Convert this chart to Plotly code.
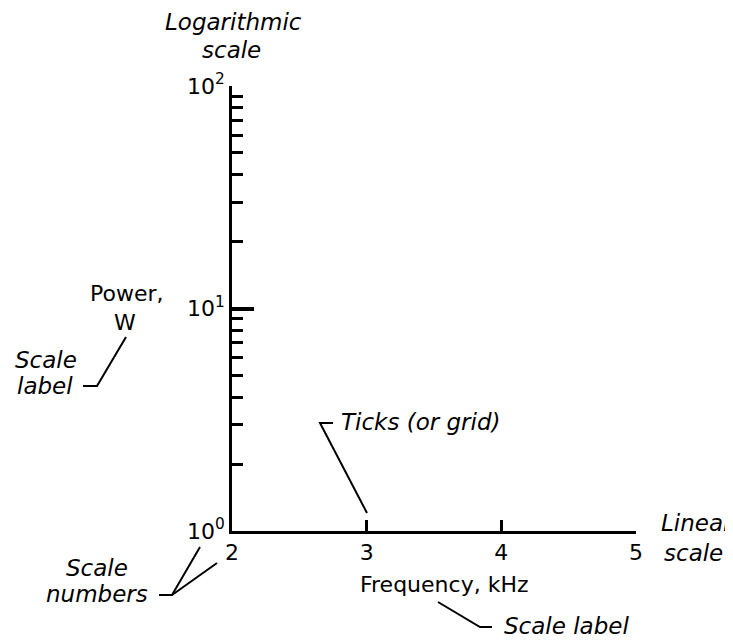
import plotly.graph_objects as go

# ---- data (axis scales) ----
x_tick_values = [2, 3, 4, 5]
x_tick_labels = ["2", "3", "4", "5"]
y_tick_values = [1, 10, 100]
y_tick_labels = ["10<sup>0</sup>", "10<sup>1</sup>", "10<sup>2</sup>"]
y_minor_values = [2, 3, 4, 5, 6, 7, 8, 9, 20, 30, 40, 50, 60, 70, 80, 90]
x_range = [2, 5]
y_range_log = [0, 2]

# ---- layout geometry (page pixels; the page body adds an 8px offset) ----
OFF = 8
PAGE_W, PAGE_H = 733, 641
W, H = PAGE_W - OFF, PAGE_H - OFF
PLOT_X0, PLOT_X1, PLOT_Y0, PLOT_Y1 = 232, 636, 86, 531  # page coords
L, R = PLOT_X0 - OFF, W - (PLOT_X1 - OFF)
T, B = PLOT_Y0 - OFF, H - (PLOT_Y1 - OFF)
PW, PH = PLOT_X1 - PLOT_X0, PLOT_Y1 - PLOT_Y0
FONT = "DejaVu Sans"
TICK_SIZE = 22


def px(x):
    return (x - PLOT_X0) / PW


def py(y):
    return (PLOT_Y1 - y) / PH


fig = go.Figure()

fig.update_layout(
    width=W, height=H, autosize=False,
    margin=dict(l=L, r=R, t=T, b=B, pad=0),
    paper_bgcolor="white", plot_bgcolor="white",
    showlegend=False,
    font=dict(family=FONT, size=21, color="black"),
    xaxis=dict(
        type="linear", range=x_range, tickmode="array",
        tickvals=x_tick_values, ticktext=x_tick_labels,
        ticks="inside", ticklen=11, tickwidth=2.5, tickcolor="black",
        showline=True, linecolor="black", linewidth=2.5,
        showgrid=False, zeroline=False, fixedrange=True,
        tickfont=dict(family=FONT, size=TICK_SIZE, color="black"),
    ),
    yaxis=dict(
        type="log", range=y_range_log, tickmode="array",
        tickvals=y_tick_values, ticktext=y_tick_labels,
        ticks="inside", ticklen=22, tickwidth=3.5, tickcolor="black",
        minor=dict(tickmode="array", tickvals=y_minor_values, ticks="inside",
                   ticklen=11, tickwidth=2.5, tickcolor="black", showgrid=False),
        showline=True, linecolor="black", linewidth=2.5,
        showgrid=False, zeroline=False, fixedrange=True,
        tickfont=dict(family=FONT, size=TICK_SIZE, color="black"),
    ),
)


def note(text, x, y, italic=False, xanchor="center", size=22):
    if italic:
        text = "<i>" + text + "</i>"
    fig.add_annotation(text=text, x=px(x), y=py(y), xref="paper", yref="paper",
                       showarrow=False, xanchor=xanchor, yanchor="middle",
                       font=dict(family=FONT, size=size, color="black"))


def leader(points):
    path = "M " + " L ".join(f"{px(a)},{py(b)}" for a, b in points)
    fig.add_shape(type="path", path=path, xref="paper", yref="paper",
                  line=dict(color="black", width=2))


IT = 23
note("Logarithmic", 233, 22, italic=True, size=IT)
note("scale", 231, 50, italic=True, size=IT)
note("Power,", 127, 293)
note("W", 125, 322)
note("Scale", 46, 360, italic=True, size=IT)
note("label", 45, 386, italic=True, size=IT)
leader([(83, 386), (97, 386), (126, 337)])
note("Ticks (or grid)", 339, 422, italic=True, xanchor="left", size=IT)
leader([(333, 423), (320, 423), (367, 513)])
note("Linear", 659, 523, italic=True, xanchor="left", size=IT)
note("scale", 662, 553, italic=True, xanchor="left", size=IT)
note("Scale", 97, 568, italic=True, size=IT)
note("numbers", 97, 594, italic=True, size=IT)
leader([(159, 595), (172, 595), (200, 547)])
leader([(172, 595), (217, 563)])
note("Frequency, kHz", 444, 584)
leader([(438, 602), (480, 627), (492, 627)])
note("Scale label", 502, 626, italic=True, xanchor="left", size=IT)

fig.write_html("out.html")
